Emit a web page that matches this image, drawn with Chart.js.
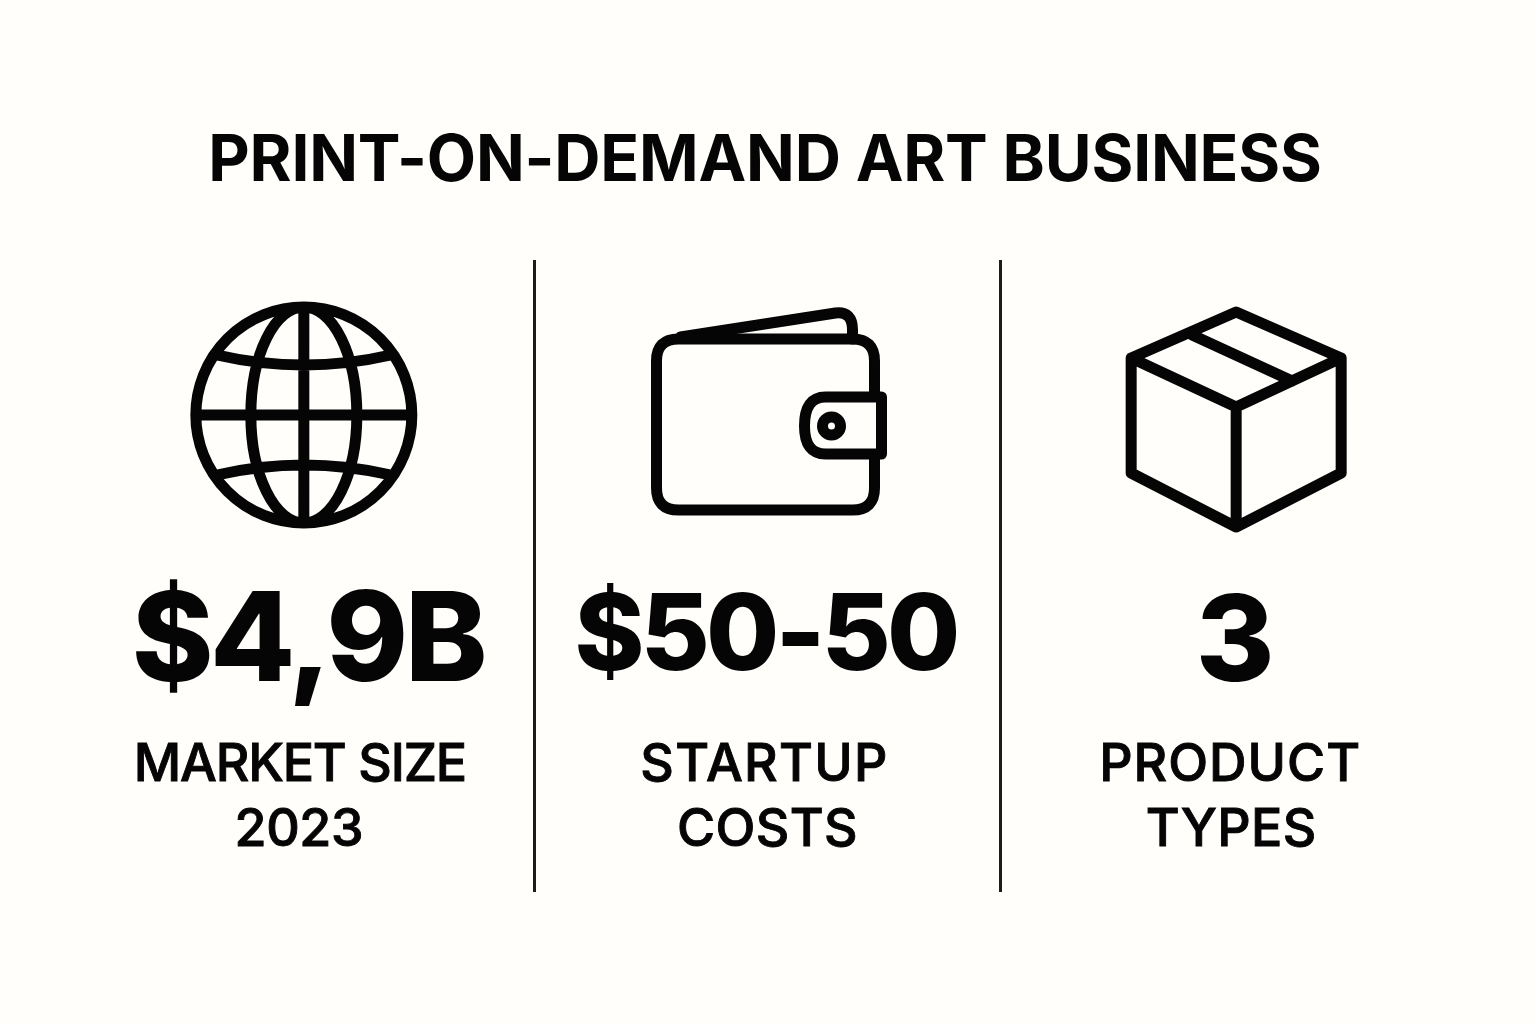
<!DOCTYPE html>
<html lang="en">
<head>
    <meta charset="UTF-8">
    <title>Print-on-demand art business</title>
    <script src="https://cdn.jsdelivr.net/npm/chart.js"></script>
    <style>
        html, body { margin: 0; padding: 0; background: #fffefa; }
        canvas { display: block; }
    </style>
</head>
<body>
    <canvas id="stats" width="1536" height="1024"></canvas>
    <script>
        const titleText = "PRINT-ON-DEMAND ART BUSINESS";
        const categories = ["Market size", "Startup costs", "Product types"];
        const statValues = [4.9, 50, 3];
        const statLabels = ["$4,9B", "$50-50", "3"];
        const captionLines = [["MARKET SIZE", "2023"], ["STARTUP", "COSTS"], ["PRODUCT", "TYPES"]];

        const INK = "#050505";
        const PAPER = "#fffefa";

        function drawGlobe(ctx) {
            ctx.lineWidth = 11;
            ctx.stroke(new Path2D(
                "M-108 0a108 108 0 1 0 216 0a108 108 0 1 0 -216 0Z" +
                "M-53 0a53 108 0 1 0 106 0a53 108 0 1 0 -106 0Z" +
                "M0 -108V108M-108 0H108" +
                "M-87 -60Q0 -40 87 -60M-87 60Q0 40 87 60"
            ));
        }

        function drawWallet(ctx) {
            ctx.lineWidth = 11;
            ctx.stroke(new Path2D(
                "M-87 -78L68 -102Q85 -104 85 -85V-76"
            ));
            ctx.stroke(new Path2D(
                "M-89 -76H85Q107 -76 107 -54V73Q107 95 85 95H-89Q-111 95 -111 73V-54Q-111 -76 -89 -76Z"
            ));
            const clasp = new Path2D("M114 -18H58Q37 -18 37 11Q37 39 58 39H114Z");
            ctx.fillStyle = PAPER;
            ctx.fill(clasp);
            ctx.stroke(clasp);
            ctx.stroke(new Path2D("M55 11a9 9 0 1 0 18 0a9 9 0 1 0 -18 0Z"));
        }

        function drawBox(ctx) {
            ctx.lineWidth = 11;
            ctx.stroke(new Path2D(
                "M0 -107L105 -61V54L0 108L-105 54V-61Z" +
                "M-105 -61L0 -12L105 -61M0 -12V108" +
                "M-44 -84L56 -38"
            ));
        }

        const icons = [
            { draw: drawGlobe, dx: 2, y: 415 },
            { draw: drawWallet, dx: 0, y: 415 },
            { draw: drawBox, dx: 3, y: 419 }
        ];

        const statFonts = [
            { font: "800 124px Inter", dx: 6, y: 681, tracking: -3.4 },
            { font: "800 106px Inter", dx: -2, y: 670, tracking: -3.8 },
            { font: "800 120px Inter", dx: 2, y: 681, tracking: 0 }
        ];

        const captionBaselines = [781, 846];
        const captionTracking = [[-1.2, -0.4], [1.3, 0.4], [1, 0.3]];
        const captionOffsets = [[-2, -3], [-3, 0], [-3, -2]];

        const panelPlugin = {
            id: "panels",
            afterLayout(chart) {
                // title sits a little left of the column grid
                chart.titleBlock.left -= 2.5;
                chart.titleBlock.right -= 2.5;
            },
            beforeDraw(chart) {
                chart.ctx.letterSpacing = "-0.18px";
            },
            afterDraw(chart) {
                const ctx = chart.ctx;
                const bars = chart.getDatasetMeta(0).data;
                ctx.letterSpacing = "0px";
                bars.forEach((bar, i) => {
                    ctx.save();
                    ctx.translate(bar.x + icons[i].dx, icons[i].y);
                    ctx.strokeStyle = INK;
                    ctx.lineJoin = "round";
                    ctx.lineCap = "round";
                    icons[i].draw(ctx);
                    ctx.restore();

                    ctx.save();
                    ctx.fillStyle = INK;
                    ctx.strokeStyle = INK;
                    ctx.textAlign = "center";
                    ctx.textBaseline = "alphabetic";
                    ctx.font = statFonts[i].font;
                    ctx.letterSpacing = statFonts[i].tracking + "px";
                    ctx.fillText(statLabels[i], bar.x + statFonts[i].dx, statFonts[i].y);
                    // 500 is a bit light and 600 a bit heavy, so thicken 500 slightly
                    ctx.font = "500 52px Inter";
                    ctx.lineWidth = 0.9;
                    captionLines[i].forEach((line, j) => {
                        const x = bar.x + captionOffsets[i][j];
                        ctx.letterSpacing = captionTracking[i][j] + "px";
                        ctx.fillText(line, x, captionBaselines[j]);
                        ctx.strokeText(line, x, captionBaselines[j]);
                    });
                    ctx.restore();
                });
            }
        };

        new Chart(document.getElementById("stats"), {
            type: "bar",
            data: {
                labels: categories,
                datasets: [{
                    data: statValues,
                    backgroundColor: "transparent",
                    borderWidth: 0
                }]
            },
            options: {
                responsive: false,
                animation: false,
                layout: { padding: { left: 69, right: 70, top: 0, bottom: 132 } },
                plugins: {
                    legend: { display: false },
                    tooltip: { enabled: false },
                    title: {
                        display: true,
                        text: titleText,
                        color: INK,
                        font: { family: "Inter", size: 64, weight: "700", lineHeight: 1 },
                        padding: { top: 130, bottom: 66 }
                    }
                },
                scales: {
                    x: {
                        offset: true,
                        border: { display: false },
                        ticks: { display: false },
                        grid: {
                            offset: true,
                            drawTicks: false,
                            lineWidth: 3,
                            color: ctx => (ctx.index === 1 || ctx.index === 2) ? "#1c1c1c" : "transparent"
                        }
                    },
                    y: { display: false, min: 0, max: 60 }
                }
            },
            plugins: [panelPlugin]
        });
    </script>
</body>
</html>
